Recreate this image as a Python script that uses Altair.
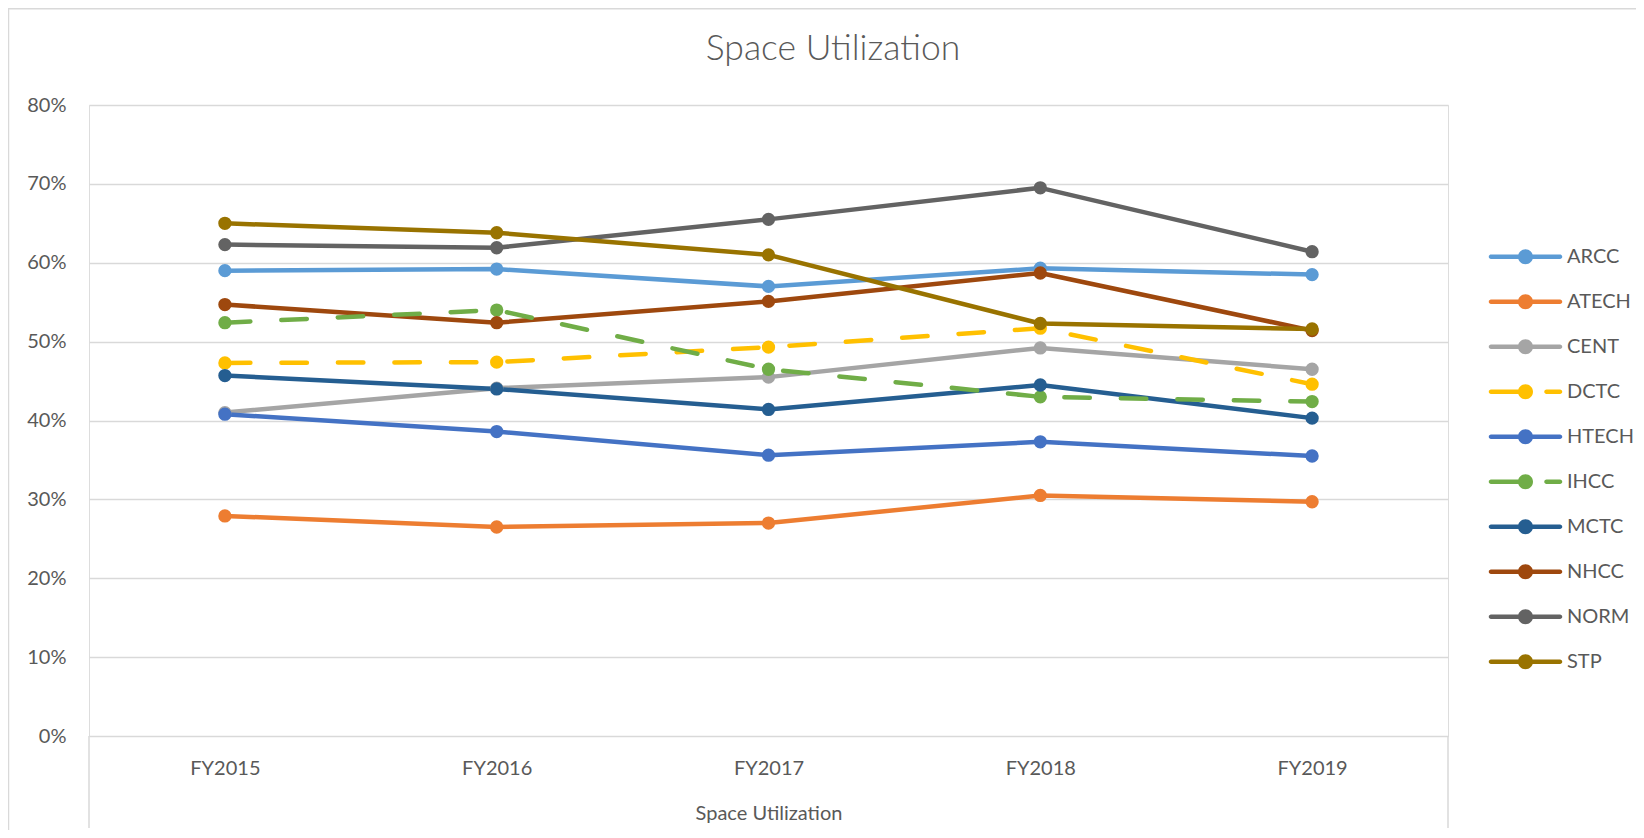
import altair as alt
import pandas as pd

# ---- data ----
years = ["FY2015", "FY2016", "FY2017", "FY2018", "FY2019"]
series = ["ARCC", "ATECH", "CENT", "DCTC", "HTECH", "IHCC", "MCTC", "NHCC", "NORM", "STP"]
colors = ["#5B9BD5", "#ED7D31", "#A5A5A5", "#FFC000", "#4472C4",
          "#70AD47", "#255E91", "#9E480E", "#636363", "#997300"]
dashed_series = ["DCTC", "IHCC"]

ARCC = [59.0, 59.2, 57.0, 59.3, 58.5]
ATECH = [27.9, 26.5, 27.0, 30.5, 29.7]
CENT = [41.0, 44.1, 45.5, 49.2, 46.5]
DCTC = [47.3, 47.4, 49.3, 51.7, 44.6]
HTECH = [40.8, 38.6, 35.6, 37.3, 35.5]
IHCC = [52.4, 54.0, 46.5, 43.0, 42.4]
MCTC = [45.7, 44.0, 41.4, 44.5, 40.3]
NHCC = [54.7, 52.4, 55.1, 58.7, 51.4]
NORM = [62.3, 61.9, 65.5, 69.5, 61.4]
STP = [65.0, 63.8, 61.0, 52.3, 51.6]

y_ticks = [0, 0.1, 0.2, 0.3, 0.4, 0.5, 0.6, 0.7, 0.8]

values = {"ARCC": ARCC, "ATECH": ATECH, "CENT": CENT, "DCTC": DCTC, "HTECH": HTECH,
          "IHCC": IHCC, "MCTC": MCTC, "NHCC": NHCC, "NORM": NORM, "STP": STP}

rows = []
for s in series:
    for yr, v in zip(years, values[s]):
        rows.append({"series": s, "year": yr, "value": v / 100.0, "dashed": s in dashed_series})
df = pd.DataFrame(rows)

# ---- styling ----
W, H = 1359, 631
FONT = "Lato"
TXT = "#595959"
GRID = "#D9D9D9"

# legend symbols: line with a marker in the middle (units: 7.5 px)
solid_path = ("M-4.6,-0.3H4.6A0.3,0.3 0 0 1 4.6,0.3H-4.6A0.3,0.3 0 0 1 -4.6,-0.3Z"
              "M1,0A1,1 0 1 1 -1,0A1,1 0 1 1 1,0Z")
dash_path = ("M-4.6,-0.3H0A0.3,0.3 0 0 1 0,0.3H-4.6A0.3,0.3 0 0 1 -4.6,-0.3Z"
             "M2.8,-0.3H4.6A0.3,0.3 0 0 1 4.6,0.3H2.8A0.3,0.3 0 0 1 2.8,-0.3Z"
             "M1,0A1,1 0 1 1 -1,0A1,1 0 1 1 1,0Z")
shapes = [dash_path if s in dashed_series else solid_path for s in series]

x_enc = alt.X("year:N", sort=years,
              scale=alt.Scale(type="point", padding=0.5),
              axis=alt.Axis(title="Space Utilization", labelAngle=0, labelPadding=22,
                            labelFontSize=20, labelColor=TXT, labelFont=FONT,
                            domain=False, ticks=False, grid=False,
                            titleFont=FONT, titleFontSize=20, titleFontWeight="normal",
                            titleColor=TXT, titleY=77, titleBaseline="middle"))
y_enc = alt.Y("value:Q", scale=alt.Scale(domain=[0, 0.8], nice=False, zero=True),
              axis=alt.Axis(format=".0%", values=y_ticks, title=None, labelPadding=23,
                            labelFontSize=20, labelColor=TXT, labelFont=FONT,
                            domain=False, ticks=False, grid=True,
                            gridColor=GRID, gridWidth=1.5))
color_scale = alt.Scale(domain=series, range=colors)

base = alt.Chart(df)

leg = dict(title=None, orient="none", legendX=1400, legendY=141.7, direction="vertical",
           symbolSize=225, symbolStrokeWidth=0, symbolOffset=26.5, labelOffset=31.5,
           rowPadding=25, labelFont=FONT, labelFontSize=20, labelColor=TXT,
           padding=0, symbolOpacity=1)

# invisible layer that only carries the legend (line + marker symbols)
legend_layer = base.mark_point(filled=True, opacity=0).encode(
    x=x_enc, y=y_enc,
    color=alt.Color("series:N", scale=color_scale, legend=alt.Legend(**leg)),
    shape=alt.Shape("series:N", scale=alt.Scale(domain=series, range=shapes),
                    legend=alt.Legend(**leg)))

solid_lines = base.transform_filter("!datum.dashed").mark_line(
    strokeWidth=4.5, strokeCap="round", strokeJoin="round"
).encode(x=x_enc, y=y_enc,
         color=alt.Color("series:N", scale=color_scale, legend=None))

dashed_lines = base.transform_filter("datum.dashed").mark_line(
    strokeWidth=4.5, strokeCap="round", strokeJoin="round", strokeDash=[25.5, 31]
).encode(x=x_enc, y=y_enc,
         color=alt.Color("series:N", scale=color_scale, legend=None))

points = base.mark_point(filled=True, size=177, opacity=1).encode(
    x=x_enc, y=y_enc,
    color=alt.Color("series:N", scale=color_scale, legend=None))

one = alt.Data(values=[{}])
frame_left = alt.Chart(one).mark_rule(color=GRID, strokeWidth=1.5).encode(
    x=alt.value(-80.5), y=alt.value(-97), y2=alt.value(H + 94))
frame_top = alt.Chart(one).mark_rule(color=GRID, strokeWidth=1.5).encode(
    y=alt.value(-96.2), x=alt.value(-81), x2=alt.value(W + 188))
box_left = alt.Chart(one).mark_rule(color=GRID, strokeWidth=1.5).encode(
    x=alt.value(0), y=alt.value(H), y2=alt.value(H + 92))
box_right = alt.Chart(one).mark_rule(color=GRID, strokeWidth=1.5).encode(
    x=alt.value(W), y=alt.value(H), y2=alt.value(H + 92))

chart = alt.layer(
    legend_layer, frame_left, frame_top, box_left, box_right,
    solid_lines, dashed_lines, points
).properties(
    width=W, height=H,
    autosize=alt.AutoSizeParams(type="none"),
    padding={"left": 81, "top": 97, "right": 188, "bottom": 94},
    title=alt.TitleParams("Space Utilization", font=FONT, fontSize=35.5, fontWeight=300,
                          color=TXT, anchor="middle", dx=64.5, dy=80, offset=20),
).configure_view(stroke=None).configure(background="white")

chart.save("out.html", embed_options={"renderer": "svg", "actions": False})
